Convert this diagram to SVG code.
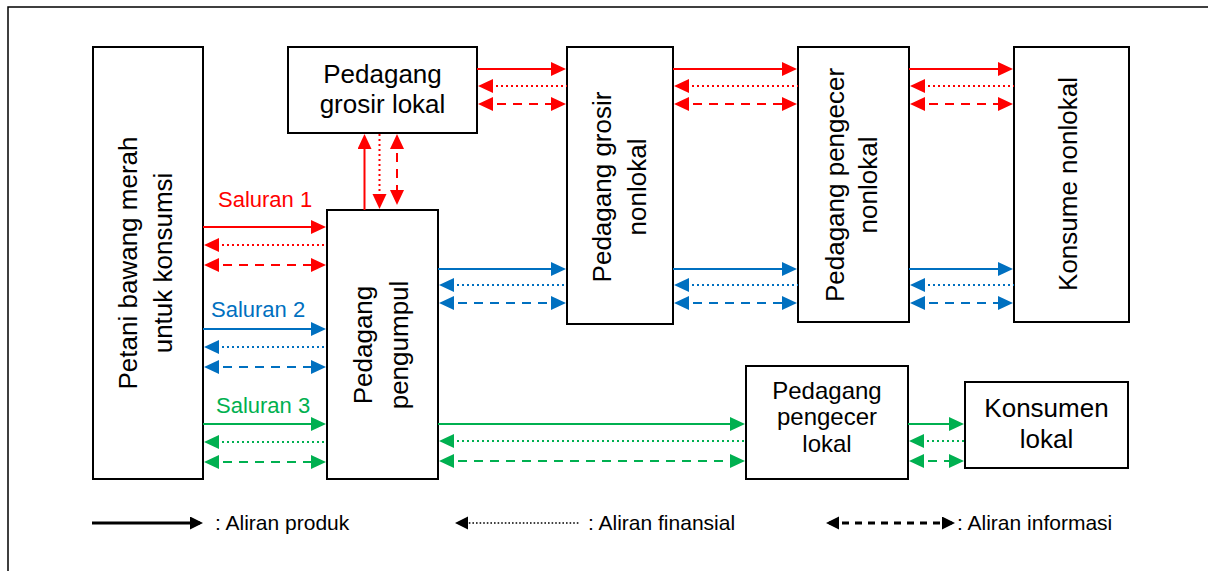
<svg xmlns="http://www.w3.org/2000/svg" width="1208" height="571" viewBox="0 0 1208 571">
<style>
.box{fill:#fff;stroke:#000;stroke-width:2}
.t{font-family:"Liberation Sans",Arial,sans-serif;font-size:26px;fill:#000}
.lab{font-family:"Liberation Sans",Arial,sans-serif;font-size:22px}
.leg{font-family:"Liberation Sans",Arial,sans-serif;font-size:21px;fill:#000}
.r{stroke:#FF0000;stroke-width:2;fill:none}
.b{stroke:#0070C0;stroke-width:2;fill:none}
.g{stroke:#00B050;stroke-width:2;fill:none}
.k{stroke:#000;stroke-width:3;fill:none}
.dot{stroke-dasharray:2 3}
.dash{stroke-dasharray:9 7}
.kdot{stroke-width:1.6;stroke-dasharray:1.6 2}
.kdash{stroke-dasharray:7 6}
</style>
<defs>
<marker id="ar" markerUnits="userSpaceOnUse" markerWidth="16" markerHeight="16" refX="12" refY="7" orient="auto-start-reverse"><path d="M0,0 L15,7 L0,14 z" fill="#FF0000"/></marker>
<marker id="ab" markerUnits="userSpaceOnUse" markerWidth="16" markerHeight="16" refX="12" refY="7" orient="auto-start-reverse"><path d="M0,0 L15,7 L0,14 z" fill="#0070C0"/></marker>
<marker id="ag" markerUnits="userSpaceOnUse" markerWidth="16" markerHeight="16" refX="12" refY="7" orient="auto-start-reverse"><path d="M0,0 L15,7 L0,14 z" fill="#00B050"/></marker>
<marker id="ak" markerUnits="userSpaceOnUse" markerWidth="16" markerHeight="16" refX="10" refY="6.5" orient="auto-start-reverse"><path d="M0,0 L13,6.5 L0,13 z" fill="#000"/></marker>
</defs>
<rect x="8" y="7" width="1300" height="700" fill="#fff" stroke="#000" stroke-width="1.5"/>

<g id="petani"><rect class="box" x="93" y="47" width="110" height="432"/>
<text class="t" text-anchor="middle" transform="translate(148,263) rotate(-90)"><tspan x="0" y="-11">Petani bawang merah</tspan><tspan x="0" y="24">untuk konsumsi</tspan></text></g>

<g id="grosir-lokal"><rect class="box" x="288" y="47" width="189" height="86"/>
<text class="t" text-anchor="middle"><tspan x="382.5" y="83">Pedagang</tspan><tspan x="382.5" y="113">grosir lokal</tspan></text></g>

<g id="pengumpul"><rect class="box" x="327" y="210" width="111" height="269"/>
<text class="t" text-anchor="middle" transform="translate(382.5,345) rotate(-90)"><tspan x="0" y="-11">Pedagang</tspan><tspan x="0" y="25">pengumpul</tspan></text></g>

<g id="grosir-nonlokal"><rect class="box" x="567" y="47" width="106" height="277"/>
<text class="t" text-anchor="middle" transform="translate(620,187) rotate(-90)"><tspan x="0" y="-9">Pedagang grosir</tspan><tspan x="0" y="26">nonlokal</tspan></text></g>

<g id="pengecer-nonlokal"><rect class="box" x="798" y="47" width="111" height="275"/>
<text class="t" text-anchor="middle" transform="translate(853.5,185) rotate(-90)"><tspan x="0" y="-9.5">Pedagang pengecer</tspan><tspan x="0" y="23.5">nonlokal</tspan></text></g>

<g id="konsume-nonlokal"><rect class="box" x="1014" y="47" width="115" height="275"/>
<text class="t" text-anchor="middle" transform="translate(1071.5,184) rotate(-90)"><tspan x="0" y="5">Konsume nonlokal</tspan></text></g>

<g id="pengecer-lokal"><rect class="box" x="746" y="366" width="162" height="113"/>
<text class="t" text-anchor="middle" style="font-size:24px"><tspan x="827" y="399">Pedagang</tspan><tspan x="827" y="425">pengecer</tspan><tspan x="827" y="451.5">lokal</tspan></text></g>

<g id="konsumen-lokal"><rect class="box" x="965" y="382" width="163" height="86"/>
<text class="t" text-anchor="middle"><tspan x="1046.5" y="417">Konsumen</tspan><tspan x="1046.5" y="448">lokal</tspan></text></g>

<g id="labels">
<text class="lab" x="218" y="206.5" fill="#FF0000">Saluran 1</text>
<text class="lab" x="211" y="316.5" fill="#0070C0">Saluran 2</text>
<text class="lab" x="216" y="413" fill="#00B050">Saluran 3</text>
</g>

<g id="connectors">
<line class="r" x1="203" y1="227" x2="323" y2="227" marker-end="url(#ar)"/>
<line class="r dot" x1="207" y1="245" x2="327" y2="245" marker-start="url(#ar)"/>
<line class="r dash" x1="207" y1="265" x2="323" y2="265" marker-start="url(#ar)" marker-end="url(#ar)"/>
<line class="b" x1="203" y1="329" x2="323" y2="329" marker-end="url(#ab)"/>
<line class="b dot" x1="207" y1="347" x2="327" y2="347" marker-start="url(#ab)"/>
<line class="b dash" x1="207" y1="367" x2="323" y2="367" marker-start="url(#ab)" marker-end="url(#ab)"/>
<line class="g" x1="203" y1="424" x2="323" y2="424" marker-end="url(#ag)"/>
<line class="g dot" x1="207" y1="442" x2="327" y2="442" marker-start="url(#ag)"/>
<line class="g dash" x1="207" y1="462" x2="323" y2="462" marker-start="url(#ag)" marker-end="url(#ag)"/>
<line class="r" x1="364.5" y1="210" x2="364.5" y2="137" marker-end="url(#ar)"/>
<line class="r dot" x1="379.5" y1="134" x2="379.5" y2="206" marker-end="url(#ar)"/>
<line class="r dash" x1="397" y1="137" x2="397" y2="202" marker-start="url(#ar)" marker-end="url(#ar)"/>
<line class="r" x1="477" y1="69" x2="563" y2="69" marker-end="url(#ar)"/>
<line class="r dot" x1="481" y1="86" x2="567" y2="86" marker-start="url(#ar)"/>
<line class="r dash" x1="481" y1="104" x2="563" y2="104" marker-start="url(#ar)" marker-end="url(#ar)"/>
<line class="r" x1="673" y1="69" x2="794" y2="69" marker-end="url(#ar)"/>
<line class="r dot" x1="677" y1="86" x2="798" y2="86" marker-start="url(#ar)"/>
<line class="r dash" x1="677" y1="104" x2="794" y2="104" marker-start="url(#ar)" marker-end="url(#ar)"/>
<line class="r" x1="909" y1="69" x2="1010" y2="69" marker-end="url(#ar)"/>
<line class="r dot" x1="913" y1="86" x2="1014" y2="86" marker-start="url(#ar)"/>
<line class="r dash" x1="913" y1="104" x2="1010" y2="104" marker-start="url(#ar)" marker-end="url(#ar)"/>
<line class="b" x1="438" y1="269" x2="563" y2="269" marker-end="url(#ab)"/>
<line class="b dot" x1="442" y1="285" x2="567" y2="285" marker-start="url(#ab)"/>
<line class="b dash" x1="442" y1="303" x2="563" y2="303" marker-start="url(#ab)" marker-end="url(#ab)"/>
<line class="b" x1="673" y1="269" x2="794" y2="269" marker-end="url(#ab)"/>
<line class="b dot" x1="677" y1="285" x2="798" y2="285" marker-start="url(#ab)"/>
<line class="b dash" x1="677" y1="303" x2="794" y2="303" marker-start="url(#ab)" marker-end="url(#ab)"/>
<line class="b" x1="909" y1="269" x2="1010" y2="269" marker-end="url(#ab)"/>
<line class="b dot" x1="913" y1="285" x2="1014" y2="285" marker-start="url(#ab)"/>
<line class="b dash" x1="913" y1="303" x2="1010" y2="303" marker-start="url(#ab)" marker-end="url(#ab)"/>
<line class="g" x1="438" y1="424" x2="742" y2="424" marker-end="url(#ag)"/>
<line class="g dot" x1="442" y1="441" x2="746" y2="441" marker-start="url(#ag)"/>
<line class="g dash" x1="442" y1="461" x2="742" y2="461" marker-start="url(#ag)" marker-end="url(#ag)"/>
<line class="g" x1="908" y1="424" x2="961" y2="424" marker-end="url(#ag)"/>
<line class="g dot" x1="912" y1="441" x2="965" y2="441" marker-start="url(#ag)"/>
<line class="g dash" x1="912" y1="461" x2="961" y2="461" marker-start="url(#ag)" marker-end="url(#ag)"/>
</g>

<g id="legend">
<line class="k" x1="92" y1="523" x2="200" y2="523" marker-end="url(#ak)"/>
<text class="leg" x="215" y="530">: Aliran produk</text>
<line class="k kdot" x1="458" y1="523" x2="580" y2="523" marker-start="url(#ak)"/>
<text class="leg" x="588" y="530">: Aliran finansial</text>
<line class="k kdash" x1="829" y1="523" x2="952" y2="523" marker-start="url(#ak)" marker-end="url(#ak)"/>
<text class="leg" x="957" y="530">: Aliran informasi</text>
</g>
</svg>
